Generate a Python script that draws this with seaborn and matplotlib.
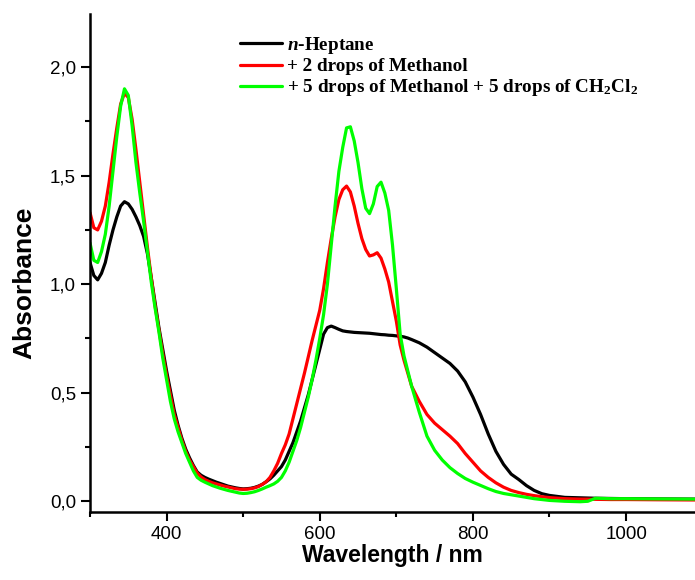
import numpy as np
import pandas as pd
import matplotlib
matplotlib.use('Agg')
import matplotlib.pyplot as plt
import seaborn as sns
from matplotlib.ticker import MultipleLocator, FuncFormatter

# wavelength grid (nm)
wavelength = [300, 305, 310, 315, 320, 325, 330, 335, 340, 345, 350, 355, 360, 365, 370,
              375, 380, 385, 390, 395, 400, 405, 410, 415, 420, 425, 430, 435, 440, 445,
              450, 455, 460, 465, 470, 475, 480, 485, 490, 495, 500, 505, 510, 515, 520,
              525, 530, 535, 540, 545, 550, 555, 560, 565, 570, 575, 580, 585, 590, 595,
              600, 605, 610, 615, 620, 625, 630, 635, 640, 645, 650, 655, 660, 665, 670,
              675, 680, 685, 690, 695, 700, 705, 710, 715, 720,
              730, 740, 750, 760, 770, 780, 790, 800, 810, 820, 830, 840, 850, 860, 870,
              880, 890, 900, 920, 940, 950, 960, 980, 1000, 1040, 1090]

heptane = [1.10, 1.04, 1.02, 1.05, 1.10, 1.18, 1.25, 1.31, 1.36, 1.38, 1.37, 1.345, 1.31, 1.27, 1.22,
           1.14, 1.03, 0.915, 0.80, 0.70, 0.60, 0.51, 0.42, 0.35, 0.29, 0.24, 0.20, 0.165, 0.135, 0.12,
           0.11, 0.102, 0.095, 0.088, 0.082, 0.076, 0.07, 0.066, 0.062, 0.059, 0.057, 0.058, 0.06, 0.064, 0.07,
           0.078, 0.09, 0.103, 0.12, 0.14, 0.16, 0.19, 0.23, 0.27, 0.32, 0.37, 0.43, 0.49, 0.56, 0.63,
           0.70, 0.77, 0.80, 0.807, 0.80, 0.792, 0.785, 0.782, 0.78, 0.778, 0.777, 0.776, 0.775, 0.774, 0.772,
           0.770, 0.768, 0.767, 0.765, 0.764, 0.762, 0.760, 0.757, 0.752, 0.745,
           0.73, 0.71, 0.685, 0.66, 0.635, 0.60, 0.55, 0.48, 0.40, 0.31, 0.23, 0.17, 0.125, 0.10, 0.072,
           0.05, 0.035, 0.027, 0.018, 0.016, 0.015, 0.014, 0.013, 0.012, 0.011, 0.010]

methanol2 = [1.33, 1.26, 1.25, 1.29, 1.36, 1.47, 1.60, 1.72, 1.83, 1.88, 1.86, 1.76, 1.62, 1.47, 1.32,
             1.17, 1.03, 0.90, 0.79, 0.68, 0.58, 0.49, 0.40, 0.34, 0.28, 0.23, 0.19, 0.16, 0.13, 0.112,
             0.10, 0.092, 0.085, 0.08, 0.075, 0.07, 0.066, 0.062, 0.058, 0.056, 0.055, 0.056, 0.058, 0.062, 0.068,
             0.078, 0.09, 0.11, 0.14, 0.175, 0.22, 0.26, 0.31, 0.38, 0.45, 0.52, 0.59, 0.665, 0.74, 0.81,
             0.88, 0.98, 1.10, 1.21, 1.31, 1.39, 1.435, 1.452, 1.425, 1.36, 1.28, 1.21, 1.16, 1.13, 1.135,
             1.145, 1.12, 1.07, 1.01, 0.92, 0.83, 0.72, 0.65, 0.59, 0.53,
             0.46, 0.40, 0.36, 0.33, 0.30, 0.266, 0.22, 0.18, 0.14, 0.11, 0.085, 0.065, 0.05, 0.04, 0.032,
             0.026, 0.021, 0.017, 0.012, 0.010, 0.010, 0.009, 0.008, 0.008, 0.007, 0.006]

methanol5_dcm = [1.19, 1.11, 1.10, 1.15, 1.23, 1.36, 1.52, 1.68, 1.82, 1.90, 1.87, 1.73, 1.56, 1.42, 1.29,
                 1.15, 1.01, 0.89, 0.78, 0.66, 0.56, 0.46, 0.38, 0.32, 0.27, 0.22, 0.18, 0.14, 0.11, 0.097,
                 0.088, 0.08, 0.072, 0.066, 0.06, 0.055, 0.05, 0.046, 0.042, 0.038, 0.036, 0.037, 0.04, 0.044, 0.05,
                 0.057, 0.065, 0.072, 0.08, 0.092, 0.11, 0.14, 0.18, 0.23, 0.28, 0.34, 0.41, 0.48, 0.56, 0.65,
                 0.75, 0.86, 1.00, 1.18, 1.36, 1.52, 1.63, 1.72, 1.725, 1.66, 1.56, 1.44, 1.35, 1.325, 1.37,
                 1.45, 1.47, 1.42, 1.34, 1.18, 0.98, 0.77, 0.67, 0.60, 0.53,
                 0.41, 0.30, 0.235, 0.19, 0.155, 0.128, 0.105, 0.088, 0.073, 0.058, 0.045, 0.036, 0.03, 0.024, 0.018,
                 0.012, 0.008, 0.004, 0.0, -0.002, 0.0, 0.014, 0.012, 0.012, 0.011, 0.010]

labels = [r'$\mathit{n}$-Heptane',
          '+ 2 drops of Methanol',
          r'+ 5 drops of Methanol + 5 drops of CH$_2$Cl$_2$']
colors = ['#000000', '#ff0000', '#00ff00']

sns.set_style('ticks')
plt.rcParams['font.family'] = ['Liberation Sans', 'DejaVu Sans']
plt.rcParams['mathtext.fontset'] = 'custom'
plt.rcParams['mathtext.rm'] = 'Liberation Serif:bold'
plt.rcParams['mathtext.it'] = 'Liberation Serif:italic:bold'
for key in ['text.color', 'axes.labelcolor', 'axes.edgecolor', 'xtick.color', 'ytick.color']:
    plt.rcParams[key] = 'black'

df = pd.concat([
    pd.DataFrame({'wl': wavelength, 'A': vals, 'series': lab})
    for vals, lab in zip([heptane, methanol2, methanol5_dcm], labels)
])

fig = plt.figure(figsize=(6.95, 5.8), dpi=100)
ax = fig.add_axes([0.1295, 0.117, 0.8705, 0.859])

sns.lineplot(data=df, x='wl', y='A', hue='series', palette=colors,
             linewidth=2.3, estimator=None, ax=ax)

ax.set_xlim(300, 1090)
ax.set_ylim(-0.05, 2.245)
ax.xaxis.set_major_locator(MultipleLocator(200))
ax.xaxis.set_minor_locator(MultipleLocator(100))
ax.yaxis.set_major_locator(MultipleLocator(0.5))
ax.yaxis.set_minor_locator(MultipleLocator(0.25))
ax.yaxis.set_major_formatter(FuncFormatter(lambda v, p: f'{v:.1f}'.replace('.', ',')))

sns.despine(ax=ax)
for s in ['left', 'bottom']:
    ax.spines[s].set_linewidth(1.8)
ax.tick_params(which='major', length=6.5, width=1.5, labelsize=13.5, direction='out')
ax.tick_params(which='minor', length=3.5, width=1.5, direction='out')

ax.set_xlabel('Wavelength / nm', fontsize=16.5, fontweight='bold', labelpad=1)
ax.set_ylabel('Absorbance', fontsize=19, fontweight='bold')
ax.yaxis.set_label_coords(-0.088, 0.46)

handles, labs = ax.get_legend_handles_labels()
ax.legend(handles, labs, loc='upper left', bbox_to_anchor=(240 / 695, 1 - 35 / 580),
          bbox_transform=fig.transFigure, frameon=False, borderpad=0,
          handlelength=2.2, handletextpad=0.25, labelspacing=0.1, borderaxespad=0,
          prop={'family': 'Liberation Serif', 'weight': 'bold', 'size': 13.8})

fig.savefig('out.png', dpi=100)
